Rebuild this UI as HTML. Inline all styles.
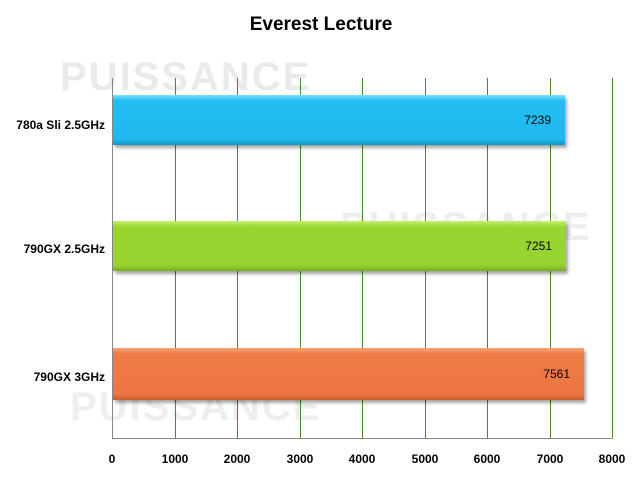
<!DOCTYPE html>
<html><head><style>
body{margin:0;width:642px;height:483px;background:#fff;position:relative;overflow:hidden;font-family:"Liberation Sans",sans-serif}
.t{position:absolute;left:0;width:642px;top:14px;text-align:center;font-weight:bold;font-size:19px}
.g{position:absolute;top:78px;height:360px;width:1px;background:#4a8a2a}
.lab{position:absolute;font-weight:bold;font-size:12px;width:105px;text-align:right;left:0}
.x{position:absolute;top:452px;font-weight:bold;font-size:12px;width:60px;text-align:center}
.bar{position:absolute;left:113px;box-shadow:2px 3px 3px rgba(0,0,0,.35);font-size:12px;text-align:right;box-sizing:border-box;padding-right:14px}
</style></head><body>
<div style="position:absolute;left:60px;top:55px;font-size:40px;font-weight:bold;color:#eaeaea;letter-spacing:2px">PUISSANCE</div>
<div style="position:absolute;left:340px;top:205px;font-size:40px;font-weight:bold;color:#eeeeee;letter-spacing:2px">PUISSANCE</div>
<div style="position:absolute;left:70px;top:385px;font-size:40px;font-weight:bold;color:#eeeeee;letter-spacing:2px">PUISSANCE</div>
<div class="t">Everest Lecture</div>
<div class="g" style="left:112px;background:#888"></div>
<div class="g" style="left:175px"></div><div class="g" style="left:237px"></div><div class="g" style="left:300px"></div><div class="g" style="left:362px"></div><div class="g" style="left:425px"></div><div class="g" style="left:487px"></div><div class="g" style="left:550px"></div><div class="g" style="left:612px"></div>
<div style="position:absolute;left:112px;top:438px;width:501px;height:1px;background:#888"></div>
<div class="bar" style="top:95px;height:50px;width:452px;line-height:50px;background:linear-gradient(#7fe0ff 0,#22bdf3 6px,#1fb9ef 88%,#1596c4 100%)">7239</div>
<div class="bar" style="top:221px;height:50px;width:453px;line-height:50px;background:linear-gradient(#c6f070 0,#9ad531 6px,#97d42f 88%,#78ab22 100%)">7251</div>
<div class="bar" style="top:348px;height:52px;width:471px;line-height:52px;background:linear-gradient(#f6a57a 0,#ef7b45 6px,#ec7642 88%,#c85c2c 100%)">7561</div>
<div class="lab" style="top:118px">780a Sli 2.5GHz</div>
<div class="lab" style="top:242px">790GX 2.5GHz</div>
<div class="lab" style="top:370px">790GX 3GHz</div>
<div class="x" style="left:82px">0</div><div class="x" style="left:145px">1000</div><div class="x" style="left:207px">2000</div><div class="x" style="left:270px">3000</div><div class="x" style="left:332px">4000</div><div class="x" style="left:395px">5000</div><div class="x" style="left:457px">6000</div><div class="x" style="left:520px">7000</div><div class="x" style="left:582px">8000</div>
</body></html>
